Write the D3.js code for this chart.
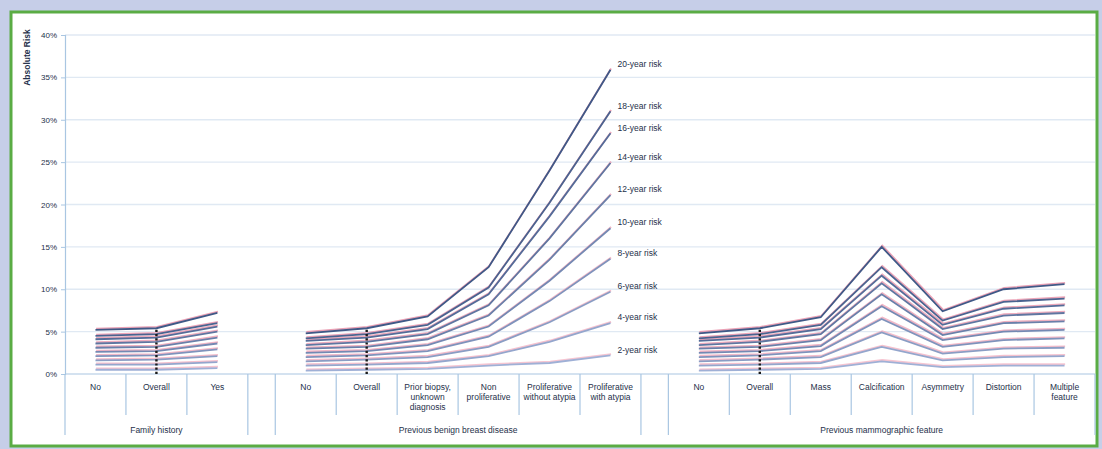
<!DOCTYPE html>
<html>
<head>
<meta charset="utf-8">
<script src="https://cdn.jsdelivr.net/npm/d3@7"></script>
<style>
  html, body { margin: 0; padding: 0; background: #c6cee8; }
  svg { display: block; }
  text { font-family: "Liberation Sans", Arial, sans-serif; }
</style>
</head>
<body>
<svg id="chart" width="1102" height="449"></svg>
<script>
// ---------- DATA ----------
const groups = ["Family history", "Previous benign breast disease", "Previous mammographic feature"];
const groupSizes = [3, 6, 7];
const categories = [
  "No", "Overall", "Yes",
  "No", "Overall", "Prior biopsy,\nunknown\ndiagnosis", "Non\nproliferative", "Proliferative\nwithout atypia", "Proliferative\nwith atypia",
  "No", "Overall", "Mass", "Calcification", "Asymmetry", "Distortion", "Multiple\nfeature"
];
const overallIndex = [1, 4, 10];
const seriesNames = ["2-year risk", "4-year risk", "6-year risk", "8-year risk", "10-year risk",
                     "12-year risk", "14-year risk", "16-year risk", "18-year risk", "20-year risk"];
const risk2  = [0.5,0.5,0.7, 0.4,0.5,0.6,1.0,1.3,2.2,  0.4,0.5,0.6,1.5,0.8,1.0,1.0];
const risk4  = [1.1,1.1,1.4, 1.0,1.1,1.3,2.1,3.8,6.0,  1.0,1.1,1.3,3.2,1.6,2.0,2.1];
const risk6  = [1.6,1.7,2.1, 1.5,1.7,2.0,3.2,6.1,9.7,  1.5,1.7,2.0,4.9,2.4,3.0,3.1];
const risk8  = [2.1,2.2,2.9, 2.0,2.2,2.7,4.4,8.6,13.6, 2.0,2.2,2.7,6.5,3.2,4.0,4.2];
const risk10 = [2.6,2.7,3.6, 2.5,2.7,3.4,5.6,11.0,17.2, 2.5,2.7,3.3,8.0,4.0,5.0,5.2];
const risk12 = [3.1,3.2,4.3, 3.0,3.2,4.1,6.9,13.5,21.1, 3.0,3.2,4.0,9.4,4.6,6.0,6.2];
const risk14 = [3.6,3.8,5.0, 3.4,3.8,4.7,8.1,16.0,24.9, 3.4,3.8,4.7,10.7,5.3,6.9,7.2];
const risk16 = [4.1,4.3,5.6, 3.9,4.3,5.3,9.4,18.6,28.4, 3.9,4.3,5.3,11.6,5.8,7.7,8.1];
const risk18 = [4.5,4.7,6.0, 4.2,4.7,5.8,10.2,20.2,31.0, 4.2,4.7,5.8,12.6,6.3,8.5,8.9];
const risk20 = [5.2,5.4,7.2, 4.8,5.4,6.8,12.6,24.0,35.9, 4.8,5.4,6.7,15.0,7.4,10.0,10.6];
const seriesValues = [risk2, risk4, risk6, risk8, risk10, risk12, risk14, risk16, risk18, risk20];
const yTicks = [0, 5, 10, 15, 20, 25, 30, 35, 40];
const yTickLabels = ["0%", "5%", "10%", "15%", "20%", "25%", "30%", "35%", "40%"];
const labelCategory = 8;

// ---------- LAYOUT ----------
const svg = d3.select("#chart");
const gapUnits = 0.45;
const slotStart = [];
const groupRanges = [];
let pos = 0;
groupSizes.forEach((n, gi) => {
  if (gi > 0) pos += gapUnits;
  const s = pos;
  for (let k = 0; k < n; k++) { slotStart.push(pos); pos += 1; }
  groupRanges.push([s, pos]);
});
const totalUnits = pos;

const x = d3.scaleLinear().domain([0, totalUnits]).range([65, 1095]);
const xc = i => x(slotStart[i] + 0.5);
const y = d3.scaleLinear().domain([0, 40]).range([374, 35]);

// frame
svg.append("rect").attr("x", 11).attr("y", 12).attr("width", 1086).attr("height", 434)
  .attr("fill", "#ffffff").attr("stroke", "#5aac44").attr("stroke-width", 3);

const axisColor = "#a9c6e2";
const textColor = "#25304a";

// gridlines
svg.append("g").selectAll("line").data(yTicks.filter(d => d > 0)).join("line")
  .attr("x1", x(0)).attr("x2", x(totalUnits))
  .attr("y1", d => y(d)).attr("y2", d => y(d))
  .attr("stroke", "#e0e9f3").attr("stroke-width", 1.3);

// y axis
const yAxis = d3.axisLeft(y).tickValues(yTicks).tickFormat((d, i) => yTickLabels[i]).tickSize(4).tickPadding(4);
const gy = svg.append("g").attr("transform", `translate(${x(0)},0)`).call(yAxis);
gy.select(".domain").attr("stroke", axisColor).attr("stroke-width", 1.2);
gy.selectAll(".tick line").attr("stroke", axisColor);
gy.selectAll(".tick text").attr("fill", textColor).attr("font-size", 8)
  .attr("font-family", "Liberation Sans, Arial, sans-serif");

// axis title
svg.append("text")
  .attr("transform", `translate(28, ${y(34)}) rotate(-90)`)
  .attr("text-anchor", "start").attr("dominant-baseline", "middle")
  .attr("font-size", 8.5).attr("font-weight", "bold").attr("fill", textColor)
  .text("Absolute Risk");

// x axis line
svg.append("line").attr("x1", x(0)).attr("x2", x(totalUnits))
  .attr("y1", y(0)).attr("y2", y(0)).attr("stroke", axisColor).attr("stroke-width", 1.2);

// category separators
const sepG = svg.append("g").attr("stroke", axisColor).attr("stroke-width", 1.2);
groupRanges.forEach(([s, e]) => {
  for (let u = s + 1; u < e - 0.01; u += 1) {
    sepG.append("line").attr("x1", x(u)).attr("x2", x(u)).attr("y1", y(0)).attr("y2", y(0) + 41);
  }
  [s, e].forEach(u => sepG.append("line").attr("x1", x(u)).attr("x2", x(u))
    .attr("y1", y(0)).attr("y2", y(0) + 61));
});

// category labels
const catG = svg.append("g").attr("font-size", 8.5).attr("fill", textColor).attr("text-anchor", "middle");
categories.forEach((c, i) => {
  const t = catG.append("text").attr("x", xc(i)).attr("y", y(0) + 16);
  c.split("\n").forEach((ln, k) => t.append("tspan").attr("x", xc(i)).attr("dy", k === 0 ? 0 : 10).text(ln));
});

// group labels
svg.append("g").selectAll("text").data(groups).join("text")
  .attr("x", (d, i) => x((groupRanges[i][0] + groupRanges[i][1]) / 2))
  .attr("y", y(0) + 59).attr("text-anchor", "middle")
  .attr("font-size", 8.5).attr("fill", textColor).text(d => d);

// series lines
const blueScale = d3.interpolateRgb("#9fb0d6", "#3f5987");
const pinkScale = d3.interpolateRgb("#f4b6c6", "#e58aa2");
const line = d3.line().x(d => xc(d.i)).y(d => y(d.v));
const linesG = svg.append("g").attr("fill", "none");
seriesValues.forEach((vals, si) => {
  const t = si / (seriesValues.length - 1);
  let start = 0;
  groupSizes.forEach(n => {
    const pts = d3.range(start, start + n).map(i => ({ i, v: vals[i] }));
    linesG.append("path").datum(pts).attr("d", line)
      .attr("transform", "translate(0.6,-1.3)")
      .attr("stroke", pinkScale(t)).attr("stroke-opacity", 0.8).attr("stroke-width", 1.8);
    linesG.append("path").datum(pts).attr("d", line)
      .attr("stroke", blueScale(t)).attr("stroke-width", 1.8);
    start += n;
  });
});

// dotted "Overall" markers
svg.append("g").selectAll("line").data(overallIndex).join("line")
  .attr("x1", d => xc(d)).attr("x2", d => xc(d))
  .attr("y1", y(0)).attr("y2", d => y(risk20[d]))
  .attr("stroke", "#1b1b1b").attr("stroke-width", 2.4).attr("stroke-dasharray", "2.2,2");

// series labels at right end
svg.append("g").selectAll("text").data(seriesNames).join("text")
  .attr("x", xc(labelCategory) + 7)
  .attr("y", (d, si) => y(seriesValues[si][labelCategory]) - 5)
  .attr("dominant-baseline", "middle")
  .attr("font-size", 8.5).attr("fill", textColor).text(d => d);
</script>
</body>
</html>
